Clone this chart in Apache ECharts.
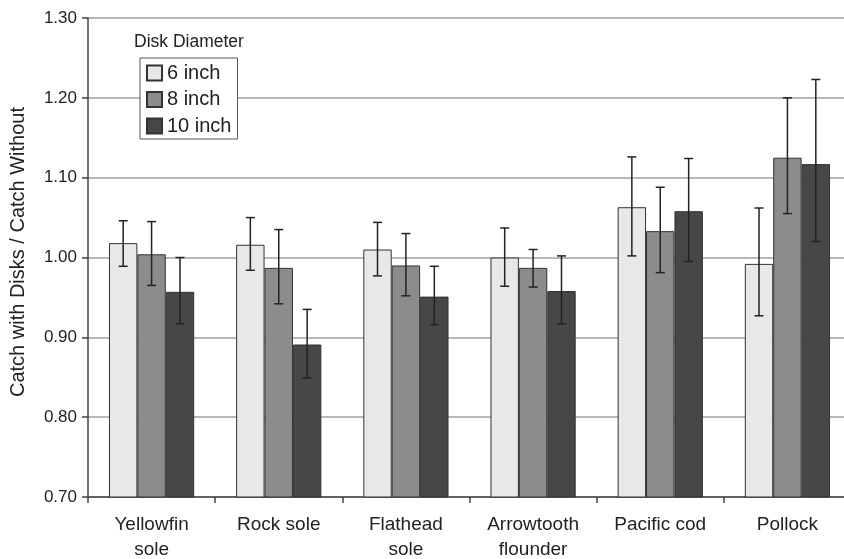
<!DOCTYPE html>
<html>
<head>
<meta charset="utf-8">
<script src="https://cdn.jsdelivr.net/npm/echarts@6/dist/echarts.min.js"></script>
<style>
html,body{margin:0;padding:0;background:#fff;}
#c{width:844px;height:559px;}
</style>
</head>
<body>
<div id="c"></div>
<script>
const categories = ['Yellowfin\nsole', 'Rock sole', 'Flathead\nsole', 'Arrowtooth\nflounder', 'Pacific cod', 'Pollock'];
const seriesNames = ['6 inch', '8 inch', '10 inch'];
const values6  = [1.018, 1.016, 1.010, 1.000, 1.063, 0.992];
const values8  = [1.004, 0.987, 0.990, 0.987, 1.033, 1.125];
const values10 = [0.957, 0.891, 0.951, 0.958, 1.058, 1.117];
const errHigh6  = [1.046, 1.050, 1.044, 1.037, 1.126, 1.062];
const errLow6   = [0.989, 0.984, 0.977, 0.964, 1.002, 0.927];
const errHigh8  = [1.045, 1.035, 1.030, 1.010, 1.088, 1.200];
const errLow8   = [0.965, 0.942, 0.952, 0.963, 0.981, 1.055];
const errHigh10 = [1.000, 0.935, 0.989, 1.002, 1.124, 1.223];
const errLow10  = [0.917, 0.849, 0.916, 0.917, 0.995, 1.020];
const yTicks = [0.70, 0.80, 0.90, 1.00, 1.10, 1.20, 1.30];
const yTitle = 'Catch with Disks / Catch Without';
const legendTitle = 'Disk Diameter';

const colors = ['#e8e8e8', '#8c8c8c', '#474747'];
const font = 'Liberation Sans, Arial, sans-serif';
const catGap = 0.33;

const values = [values6, values8, values10];
const highs = [errHigh6, errHigh8, errHigh10];
const lows = [errLow6, errLow8, errLow10];

const chart = echarts.init(document.getElementById('c'), null, {renderer: 'canvas'});

const barSeries = seriesNames.map((n, i) => ({
  name: n,
  type: 'bar',
  data: values[i],
  barGap: '0%',
  barCategoryGap: (catGap * 100) + '%',
  itemStyle: {color: colors[i], borderColor: '#333', borderWidth: 1},
  z: 2
}));

const errSeries = seriesNames.map((n, i) => ({
  name: 'err' + i,
  type: 'custom',
  data: categories.map((c, k) => [k, lows[i][k], highs[i][k]]),
  z: 5,
  renderItem: function (params, api) {
    const k = api.value(0);
    const catW = api.size([1, 0])[0];
    const bw = catW * (1 - catGap) / 3;
    const lowPt = api.coord([k, api.value(1)]);
    const x = lowPt[0] + (i - 1) * bw;
    const yLow = lowPt[1];
    const yHigh = api.coord([k, api.value(2)])[1];
    const cap = 4.5;
    const style = {stroke: '#222', lineWidth: 1.5};
    return {
      type: 'group',
      children: [
        {type: 'line', shape: {x1: x, y1: yLow, x2: x, y2: yHigh}, style: style},
        {type: 'line', shape: {x1: x - cap, y1: yHigh, x2: x + cap, y2: yHigh}, style: style},
        {type: 'line', shape: {x1: x - cap, y1: yLow, x2: x + cap, y2: yLow}, style: style}
      ]
    };
  }
}));

chart.setOption({
  animation: false,
  backgroundColor: '#fff',
  textStyle: {fontFamily: font, color: '#222'},
  grid: {left: 88, right: -7, top: 18, bottom: 62, containLabel: false, outerBoundsMode: 'none'},
  legend: {
    data: seriesNames,
    orient: 'vertical',
    left: 140,
    top: 58,
    itemWidth: 15,
    itemHeight: 15,
    itemGap: 6.5,
    padding: [5, 6, 3, 6],
    borderColor: '#555',
    borderWidth: 1,
    backgroundColor: '#fff',
    icon: 'rect',
    textStyle: {fontSize: 20, color: '#222', fontFamily: font},
    z: 10
  },
  graphic: [{
    type: 'text',
    left: 134,
    top: 33,
    style: {text: legendTitle, fontSize: 17.5, fill: '#222', fontFamily: font},
    z: 10
  }, {
    type: 'text',
    x: 18.5,
    y: 252,
    rotation: Math.PI / 2,
    style: {text: yTitle, fontSize: 20, fill: '#222', fontFamily: font, align: 'center', verticalAlign: 'middle'},
    z: 10
  }],
  xAxis: {
    type: 'category',
    data: categories,
    axisLine: {lineStyle: {color: '#444', width: 1.5}},
    axisTick: {show: true, length: 6, alignWithLabel: false, lineStyle: {color: '#444', width: 1.5}},
    axisLabel: {interval: 0, fontSize: 19, lineHeight: 25, margin: 15, color: '#222', fontFamily: font},
    splitLine: {show: false}
  },
  yAxis: {
    type: 'value',
    min: 0.7,
    max: 1.3,
    interval: 0.1,
    axisLine: {show: true, lineStyle: {color: '#444', width: 1.5}},
    axisTick: {show: true, length: 6, lineStyle: {color: '#444', width: 1.5}},
    axisLabel: {
      fontSize: 17, color: '#222', margin: 11, fontFamily: font,
      formatter: v => {
        const t = yTicks.find(y => Math.abs(y - v) < 1e-6);
        return (t !== undefined ? t : v).toFixed(2);
      }
    },
    splitLine: {show: true, lineStyle: {color: '#a0a0a0', width: 1.5}}
  },
  series: barSeries.concat(errSeries)
});
</script>
</body>
</html>
